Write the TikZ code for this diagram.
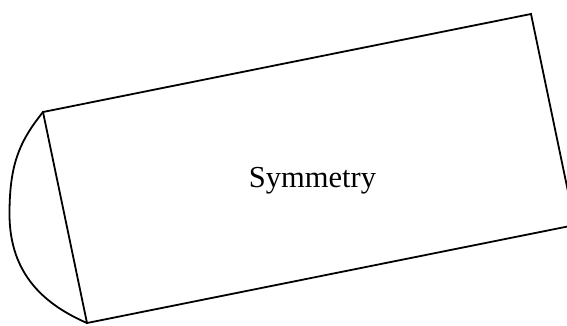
\documentclass[tikz,border=0pt]{standalone}
\usepackage{fontspec}
\setmainfont{Liberation Serif}
\begin{document}
\begin{tikzpicture}[x=1pt,y=-1pt,
  outline/.style={draw=black,line width=1.8pt,line join=miter}]
\useasboundingbox (0,0) rectangle (567,325);
\clip (0,0) rectangle (567,325);
\coordinate (tl) at (43,112);
\coordinate (tr) at (531,14);
\coordinate (br) at (575,225);
\coordinate (bl) at (87,323);
\coordinate (lm) at (9.5,214);
\draw[outline] (tl) -- (tr) -- (br) -- (bl) -- cycle;
\draw[outline] (tl) .. controls (19,142) and (9.5,165) .. (lm)
  .. controls (9.5,275) and (45.6,305) .. (bl);
\node[anchor=base,inner sep=0pt,font=\fontsize{30.5}{36}\selectfont] (lbl) at (312.5,187) {Symmetry};
\end{tikzpicture}
\end{document}
